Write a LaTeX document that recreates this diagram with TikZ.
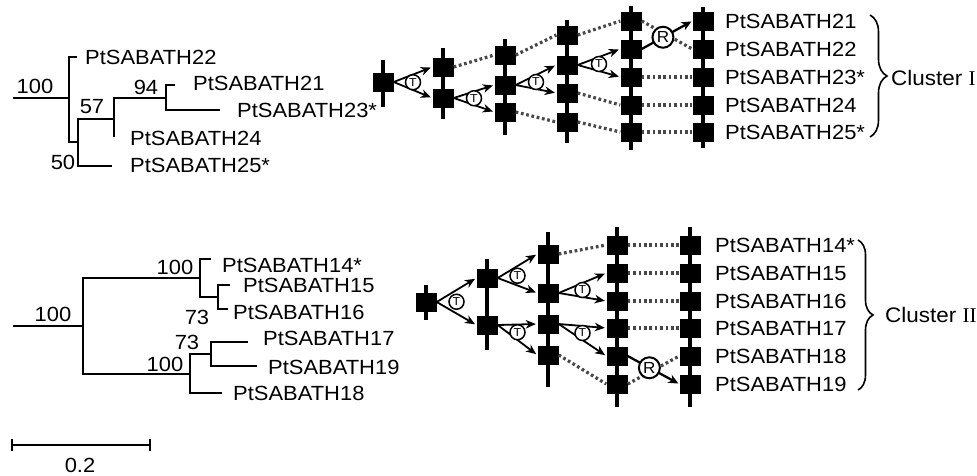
\documentclass[tikz,border=0pt]{standalone}
\usepackage{fontspec}
\setmainfont{Liberation Sans}[FakeStretch=1.07]
\newfontfamily\romanfont{Liberation Serif}
\usetikzlibrary{calc,arrows.meta,decorations.pathreplacing}
\newcommand\tsplit[4]{%
  \draw[tarr] (#2.east) -- (#3.west);
  \draw[tarr] (#2.east) -- (#4.west);
  \node[tcirc] (#1) at ($(#2.east)!0.5!($(#3.west)!0.5!(#4.west)$)$) {T};
}
\newcommand\rswap[3]{%
  \draw[rarr] (#2.east) -- (#3.west) node[rcirc, pos=0.42] (#1) {R};
}
\begin{document}
\begin{tikzpicture}[x=1pt,y=-1pt,
  blk/.style={fill=black, minimum width=21pt, minimum height=19pt, inner sep=0pt},
  bar/.style={line width=4.2pt},
  dotl/.style={line width=3.2pt, dash pattern=on 2.7pt off 2.7pt, draw=black!72},
  tarr/.style={line width=1.8pt, -{Stealth[length=10pt,width=8.5pt,inset=3pt]}, shorten >=1.5pt},
  tcirc/.style={circle, draw, fill=white, line width=1.5pt, minimum size=15pt, inner sep=0pt, font=\fontsize{11.5}{11.5}\selectfont},
  rcirc/.style={circle, draw, fill=white, line width=2pt, minimum size=21pt, inner sep=0pt, font=\fontsize{16}{16}\selectfont},
  rarr/.style={line width=2.3pt, -{Stealth[length=10pt,width=9pt]}, shorten >=1pt},
  lbl/.style={anchor=west, inner sep=0pt, font=\fontsize{20.5}{22}\selectfont},
  num/.style={inner sep=0pt, font=\fontsize{20.5}{22}\selectfont},
  tree/.style={line width=1.4pt},
  brc/.style={decorate, line width=1.6pt},
  clus/.style={anchor=west, inner sep=0pt, font=\fontsize{21}{23}\selectfont}]
\useasboundingbox (0,0) rectangle (977,475);

% ---------------- top tree ----------------
\draw[tree] (13,98) -- (69,98);
\draw[tree] (77,57) -- (69,57) -- (69,142) -- (78,142);
\draw[tree] (114,119) -- (78,119) -- (78,166) -- (112,166);
\draw[tree] (166,98) -- (114,98) -- (114,137);
\draw[tree] (175,85) -- (166,85) -- (166,110) -- (220,110);
\node[lbl] (t22) at (85,57) {PtSABATH22};
\node[lbl] (t21) at (193,83) {PtSABATH21};
\node[lbl] (t23) at (237,110) {PtSABATH23*};
\node[lbl] (t24) at (130,138) {PtSABATH24};
\node[lbl] (t25) at (130,165) {PtSABATH25*};
\node[num] (n100a) at (35,86) {100};
\node[num] (n94) at (146,87) {94};
\node[num] (n57) at (92,107) {57};
\node[num] (n50) at (63,162) {50};

% ---------------- bottom tree ----------------
\draw[tree] (13,326) -- (83,326);
\draw[tree] (200,278) -- (83,278) -- (83,374) -- (190,374);
\draw[tree] (211,259) -- (200,259) -- (200,297) -- (218,297);
\draw[tree] (230,285) -- (218,285) -- (218,309) -- (228,309);
\draw[tree] (211,354) -- (190,354) -- (190,393) -- (222,393);
\draw[tree] (248,342) -- (211,342) -- (211,366) -- (257,366);
\node[lbl] (t14) at (222,265) {PtSABATH14*};
\node[lbl] (t15) at (243,285) {PtSABATH15};
\node[lbl] (t16) at (233,312) {PtSABATH16};
\node[lbl] (t17) at (263,338) {PtSABATH17};
\node[lbl] (t19) at (268,367) {PtSABATH19};
\node[lbl] (t18) at (233,393) {PtSABATH18};
\node[num] (n100b) at (53,314) {100};
\node[num] (n100c) at (175,267) {100};
\node[num] (n73a) at (197,317) {73};
\node[num] (n73b) at (187,342) {73};
\node[num] (n100d) at (165,364) {100};
% scale bar
\draw[tree] (12,445) -- (150,445);
\draw[tree] (12,439) -- (12,451);
\draw[tree] (150,439) -- (150,451);
\node[num] (sc) at (80,465) {0.2};

% ---------------- cluster I diagram ----------------
\draw[bar] (383,60) -- (383,107);
\draw[bar] (443,48) -- (443,119);
\draw[bar] (505,39) -- (505,135);
\draw[bar] (567,20) -- (567,143);
\draw[bar] (631,6) -- (631,150);
\draw[bar] (703,7) -- (703,148);
\node[blk] (a0) at (383,82) {};
\node[blk] (b1) at (443,67) {};
\node[blk] (b2) at (443,98) {};
\node[blk] (c1) at (505,55) {};
\node[blk] (c2) at (505,85) {};
\node[blk] (c3) at (505,112) {};
\node[blk] (d1) at (567,35) {};
\node[blk] (d2) at (567,65) {};
\node[blk] (d3) at (567,93) {};
\node[blk] (d4) at (567,122) {};
\foreach \i/\y in {1/21,2/49,3/77,4/105,5/132}{
  \node[blk] (e\i) at (631,\y) {};
  \node[blk] (f\i) at (703,\y) {};
}
\node[lbl] (l21) at (725,21) {PtSABATH21};
\node[lbl] (l22) at (725,49) {PtSABATH22};
\node[lbl] (l23) at (725,77) {PtSABATH23*};
\node[lbl] (l24) at (725,105) {PtSABATH24};
\node[lbl] (l25) at (725,132) {PtSABATH25*};

\draw[dotl] (b1.east) -- (c1.west);
\draw[dotl] (c1.east) -- (d1.west);
\draw[dotl] (c3.east) -- (d4.west);
\draw[dotl] (d1.east) -- (e1.west);
\draw[dotl] (d3.east) -- (e4.west);
\draw[dotl] (d4.east) -- (e5.west);
\draw[dotl] (e1.east) -- (f2.west);
\draw[dotl] (e3.east) -- (f3.west);
\draw[dotl] (e4.east) -- (f4.west);
\draw[dotl] (e5.east) -- (f5.west);
\tsplit{ta}{a0}{b1}{b2}
\tsplit{tb}{b2}{c2}{c3}
\tsplit{tc}{c2}{d2}{d3}
\tsplit{td}{d2}{e2}{e3}
\rswap{ra}{e2}{f1}

\draw[brc, decoration={brace, amplitude=17pt}] (870,15) -- (870,137);
\node[clus] (c1lab) at (891,78) {Cluster {\romanfont I}};

% ---------------- cluster II diagram ----------------
\draw[bar] (426,285) -- (426,320);
\draw[bar] (487,259) -- (487,350);
\draw[bar] (548,232) -- (548,387);
\draw[bar] (617,227) -- (617,407);
\draw[bar] (690,227) -- (690,407);
\node[blk] (g0) at (426,302) {};
\node[blk] (h1) at (487,278) {};
\node[blk] (h2) at (487,325) {};
\node[blk] (i1) at (548,254) {};
\node[blk] (i2) at (548,293) {};
\node[blk] (i3) at (548,324) {};
\node[blk] (i4) at (548,355) {};
\foreach \i/\y in {1/245,2/273,3/301,4/328,5/356,6/384}{
  \node[blk] (j\i) at (617,\y) {};
  \node[blk] (k\i) at (690,\y) {};
}
\node[lbl] (m14) at (715,245) {PtSABATH14*};
\node[lbl] (m15) at (715,273) {PtSABATH15};
\node[lbl] (m16) at (715,301) {PtSABATH16};
\node[lbl] (m17) at (715,328) {PtSABATH17};
\node[lbl] (m18) at (715,356) {PtSABATH18};
\node[lbl] (m19) at (715,384) {PtSABATH19};

\draw[dotl] (i1.east) -- (j1.west);
\draw[dotl] (i4.east) -- (j6.west);
\draw[dotl] (j1.east) -- (k1.west);
\draw[dotl] (j2.east) -- (k2.west);
\draw[dotl] (j3.east) -- (k3.west);
\draw[dotl] (j4.east) -- (k4.west);
\draw[dotl] (j6.east) -- (k5.west);
\tsplit{tg}{g0}{h1}{h2}
\tsplit{th}{h1}{i1}{i2}
\tsplit{ti}{h2}{i3}{i4}
\tsplit{tj}{i2}{j2}{j3}
\tsplit{tk}{i3}{j4}{j5}
\rswap{rb}{j5}{k6}

\draw[brc, decoration={brace, amplitude=15pt}] (858,240) -- (858,390);
\node[clus] (c2lab) at (885,315) {Cluster {\romanfont II}};
\end{tikzpicture}
\end{document}
